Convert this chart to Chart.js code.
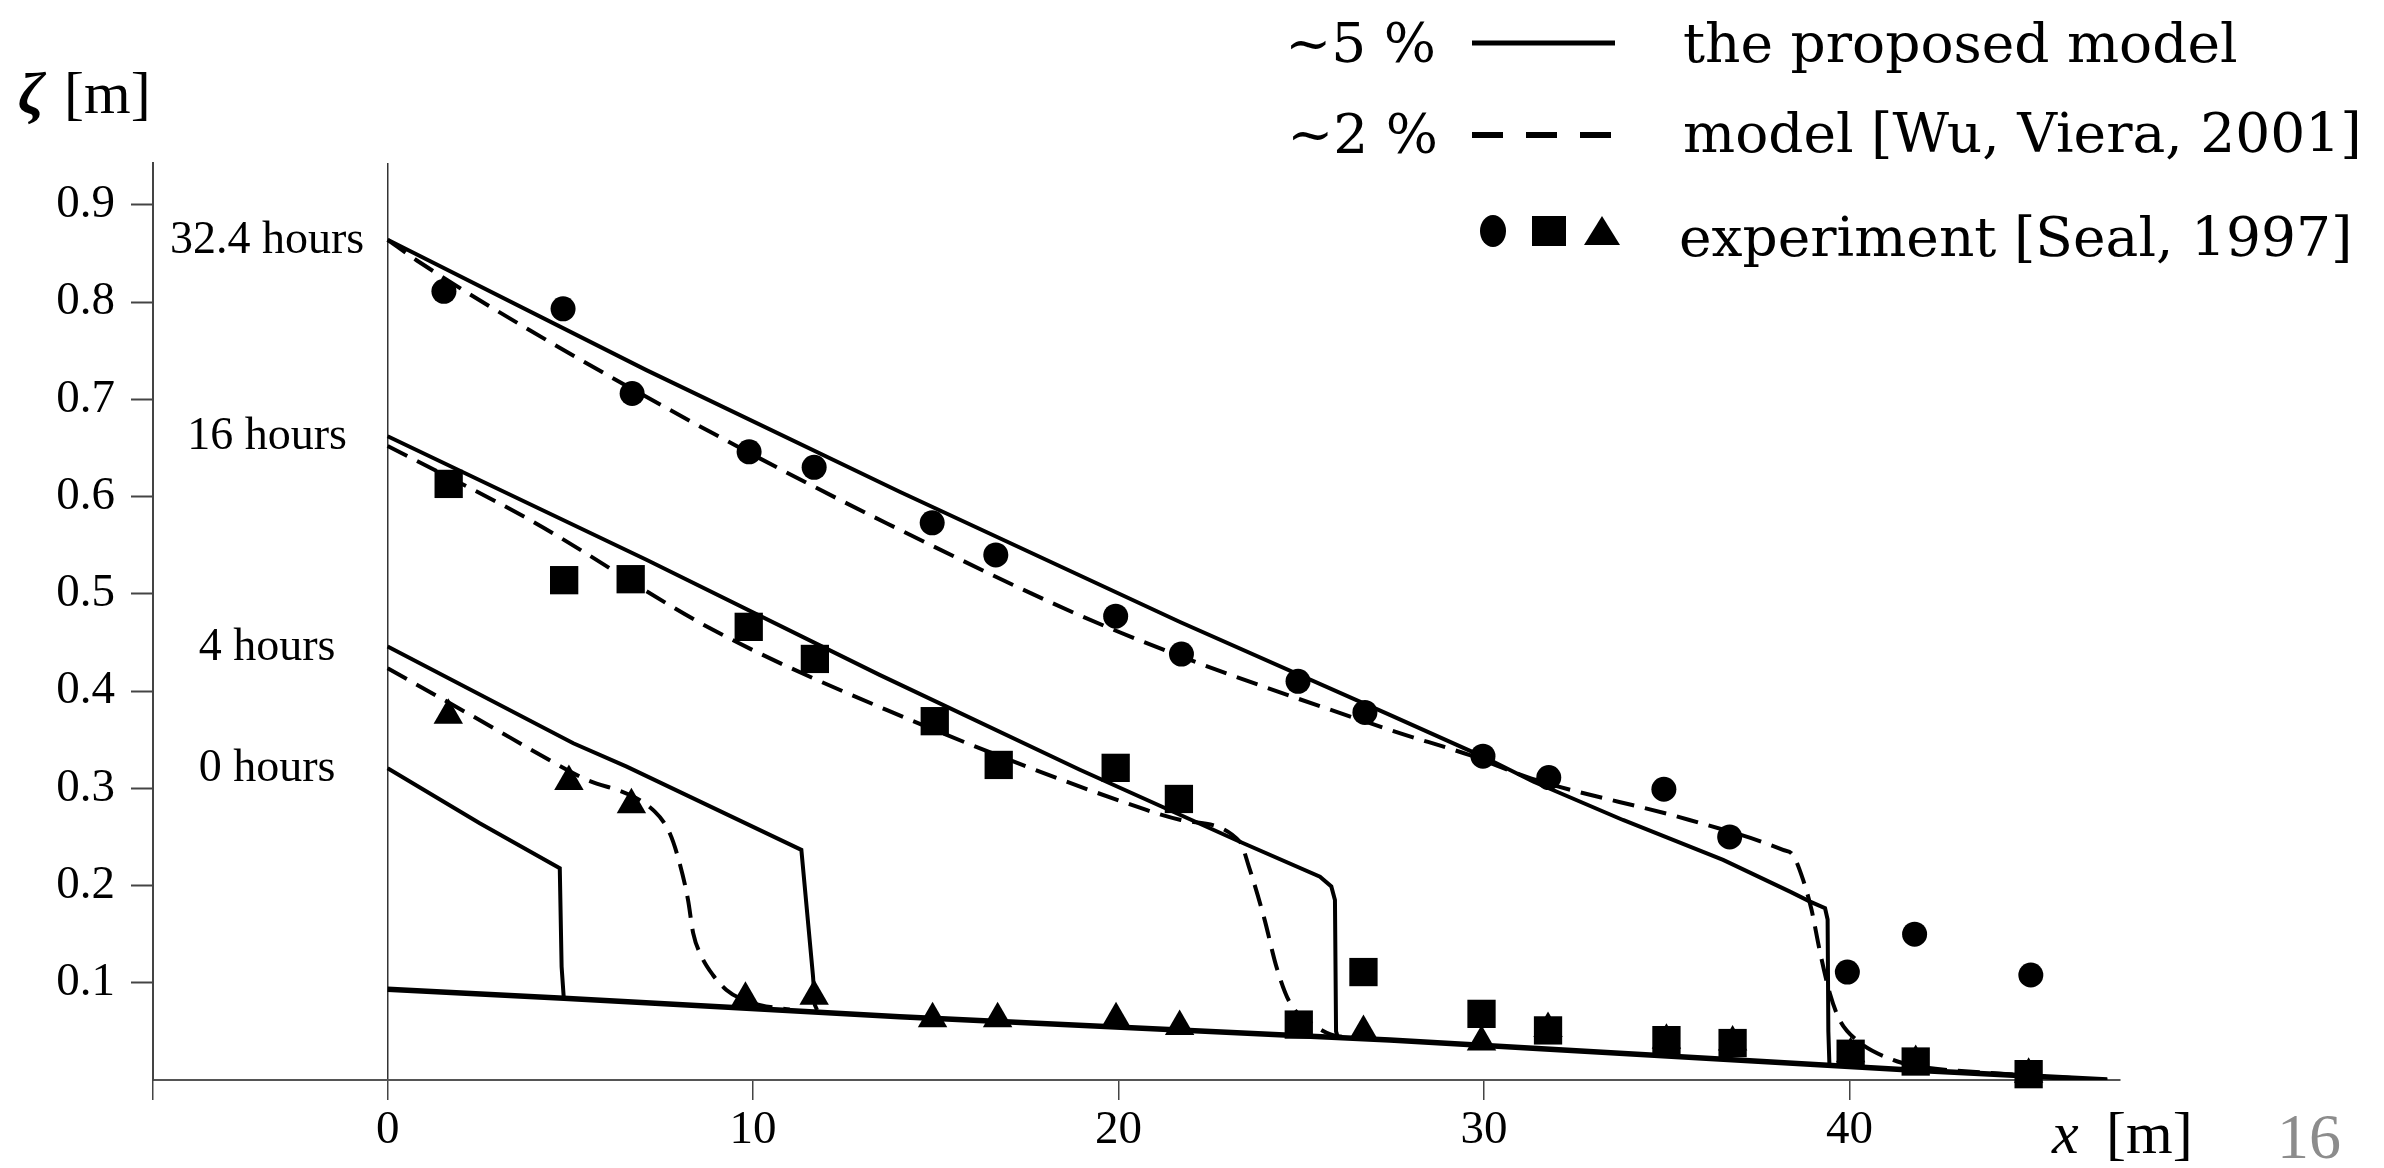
<!DOCTYPE html>
<html>
<head>
<meta charset="utf-8">
<script src="https://cdn.jsdelivr.net/npm/chart.js@4/dist/chart.umd.min.js"></script>
<style>
    html, body { margin: 0; padding: 0; background: #fff; }
    #wrap { position: relative; width: 2384px; height: 1168px; }
</style>
</head>
<body>
<div id="wrap"><canvas id="myChart"></canvas></div>
<script>
// axis ranges and ticks
const X_MIN = -6.42, X_MAX = 47.4;
const Y_MIN = 0, Y_MAX = 0.943;
const xTickValues = [0, 10, 20, 30, 40];
const yTickValues = [0.1, 0.2, 0.3, 0.4, 0.5, 0.6, 0.7, 0.8, 0.9];

// experiment [Seal, 1997]
const seal32x = [1.54, 4.80, 6.69, 9.89, 11.67, 14.90, 16.64, 19.92, 21.72, 24.91, 26.74, 29.97, 31.77, 34.92, 36.72, 39.94, 41.78, 44.96];
const seal32y = [0.811, 0.793, 0.706, 0.646, 0.630, 0.573, 0.540, 0.477, 0.438, 0.410, 0.378, 0.333, 0.311, 0.299, 0.250, 0.111, 0.150, 0.108];
const seal16x = [1.67, 4.83, 6.65, 9.88, 11.69, 14.97, 16.72, 19.92, 21.65, 24.93, 26.70, 29.93, 31.75, 34.99, 36.80, 40.03, 41.81, 44.90];
const seal16y = [0.613, 0.514, 0.515, 0.466, 0.433, 0.369, 0.324, 0.321, 0.289, 0.057, 0.111, 0.068, 0.051, 0.041, 0.038, 0.027, 0.019, 0.006];
const seal4x = [1.66, 4.96, 6.67, 9.79, 11.67, 14.91, 16.69, 19.93, 21.67, 26.70, 29.93, 31.75, 34.99, 36.80, 40.03, 41.81, 44.90];
const seal4y = [0.375, 0.307, 0.283, 0.084, 0.086, 0.063, 0.063, 0.063, 0.055, 0.050, 0.039, 0.053, 0.041, 0.039, 0.027, 0.019, 0.006];

// the proposed model (solid)
const model32x = [0, 7.08, 14.01, 21.68, 27.42, 29.97, 31.34, 33.80, 36.54, 38.37, 38.92, 39.33, 39.40, 39.42, 39.45];
const model32y = [0.864, 0.730, 0.605, 0.471, 0.3755, 0.3326, 0.307, 0.2674, 0.2263, 0.1937, 0.1834, 0.1766, 0.165, 0.05, 0.015];
const model16x = [0, 7.08, 13.46, 18.94, 23.32, 25.51, 25.82, 25.92, 25.95, 26.0];
const model16y = [0.662, 0.535, 0.4166, 0.319, 0.245, 0.209, 0.199, 0.185, 0.05, 0.0436];
const model4x = [0, 5.08, 6.54, 11.32, 11.64, 11.69, 11.75];
const model4y = [0.4457, 0.3463, 0.3223, 0.2366, 0.1063, 0.0771, 0.072];
const model0x = [0, 2.52, 4.71, 4.76, 4.82];
const model0y = [0.3206, 0.264, 0.2177, 0.1166, 0.084];
const bedX = [0, 4.82, 9.82, 14.01, 27.42, 41.65, 47.05];
const bedY = [0.0933, 0.084, 0.0737, 0.0651, 0.0411, 0.0103, 0];

// model [Wu, Viera, 2001] (dashed)
const wu32x = [0, 0.79, 3.89, 8.9, 13.65, 19.76, 27.42, 29.61, 31.3, 35.62, 38.18, 38.45, 38.73, 38.96, 39.18, 39.46, 39.73, 40.19, 41.19, 41.92, 43.84, 47.05];
const wu32y = [0.864, 0.843, 0.771, 0.665, 0.5726, 0.4646, 0.360, 0.334, 0.310, 0.2674, 0.2366, 0.2314, 0.2057, 0.175, 0.1337, 0.0892, 0.0617, 0.0411, 0.0206, 0.0138, 0.0072, 0];
const wu16x = [0, 3.89, 8.9, 13.65, 20.76, 21.7, 23.32, 23.56, 23.98, 24.33, 24.68, 25.38, 25.8, 26.5];
const wu16y = [0.652, 0.576, 0.463, 0.3806, 0.2777, 0.2674, 0.245, 0.22, 0.167, 0.115, 0.08, 0.0556, 0.047, 0.0427];
const wu4x = [0, 2.43, 5.26, 7.31, 7.72, 7.99, 8.22, 8.36, 8.59, 8.9, 9.27, 9.64, 10.2, 11.0];
const wu4y = [0.4235, 0.372, 0.312, 0.276, 0.2537, 0.2229, 0.185, 0.151, 0.127, 0.108, 0.0926, 0.084, 0.077, 0.0725];

const hourLabels = ['32.4 hours', '16 hours', '4 hours', '0 hours'];
const hourLabelX = -3.3;

const SERIF = '"Liberation Serif", "Times New Roman", serif';
const LEGEND_FONT = '"DejaVu Serif", Georgia, serif';

function toPoints(xs, ys) {
    return xs.map((x, i) => ({ x: x, y: ys[i] }));
}

function markers(label, xs, ys, style, radius, order) {
    return {
        label: label,
        data: toPoints(xs, ys),
        showLine: false,
        pointStyle: style,
        pointRadius: radius,
        pointHoverRadius: radius,
        pointBackgroundColor: '#000',
        pointBorderWidth: 0,
        clip: false,
        order: order
    };
}

function curve(label, xs, ys, dashed, width) {
    return {
        label: label,
        data: toPoints(xs, ys),
        borderColor: '#000',
        borderWidth: width || 4,
        borderDash: dashed ? [22, 11] : [],
        pointRadius: 0,
        fill: false,
        tension: 0,
        cubicInterpolationMode: dashed ? 'monotone' : 'default',
        order: dashed ? 6 : 5
    };
}

const annotations = {
    id: 'annotations',
    afterDraw(chart) {
        const ctx = chart.ctx;
        const xs = chart.scales.x;
        const ys = chart.scales.y;
        ctx.save();
        ctx.fillStyle = '#000';
        ctx.textBaseline = 'alphabetic';

        // time labels next to the curve starts
        const starts = [model32y[0], model16y[0], model4y[0], model0y[0]];
        ctx.font = '46px ' + SERIF;
        ctx.textAlign = 'center';
        hourLabels.forEach((t, i) => {
            ctx.fillText(t, xs.getPixelForValue(hourLabelX), ys.getPixelForValue(starts[i]) + 13);
        });

        // axis titles
        ctx.textAlign = 'left';
        ctx.font = 'italic bold 60px ' + SERIF;
        ctx.fillText('ζ', 18, 113);
        ctx.font = '60px ' + SERIF;
        ctx.fillText('[m]', 64, 113);
        ctx.font = 'italic 60px ' + SERIF;
        ctx.fillText('x', 2052, 1153);
        ctx.font = '60px ' + SERIF;
        ctx.fillText('[m]', 2106, 1153);

        // page number
        ctx.fillStyle = '#8c8c8c';
        ctx.font = '64px ' + SERIF;
        ctx.fillText('16', 2277, 1158);
        ctx.fillStyle = '#000';

        // legend
        ctx.font = '55px ' + LEGEND_FONT;
        ctx.textAlign = 'right';
        ctx.fillText('~5 %', 1436, 62);
        ctx.fillText('~2 %', 1438, 153);
        ctx.textAlign = 'left';
        ctx.fillText('the proposed model', 1683, 62);
        ctx.fillText('model [Wu, Viera, 2001]', 1683, 152);
        ctx.fillText('experiment [Seal, 1997]', 1679, 256);

        ctx.strokeStyle = '#000';
        ctx.lineWidth = 5;
        ctx.beginPath();
        ctx.moveTo(1472, 43);
        ctx.lineTo(1615, 43);
        ctx.stroke();
        ctx.lineWidth = 6;
        ctx.setLineDash([31, 23]);
        ctx.beginPath();
        ctx.moveTo(1472, 135);
        ctx.lineTo(1615, 135);
        ctx.stroke();
        ctx.setLineDash([]);

        ctx.beginPath();
        ctx.ellipse(1493, 231, 13, 16, 0, 0, Math.PI * 2);
        ctx.fill();
        ctx.fillRect(1532, 216, 34, 30);
        ctx.beginPath();
        ctx.moveTo(1602, 216);
        ctx.lineTo(1620, 245);
        ctx.lineTo(1584, 245);
        ctx.closePath();
        ctx.fill();

        ctx.restore();
    }
};

const ctx = document.getElementById('myChart').getContext('2d');

new Chart(ctx, {
    type: 'line',
    data: {
        datasets: [
            markers('32.4 hours', seal32x, seal32y, 'circle', 12.5, 0),
            markers('16 hours', seal16x, seal16y, 'rect', 20, 1),
            markers('4 hours', seal4x, seal4y, 'triangle', 17, 2),
            curve('proposed 32.4 h', model32x, model32y, false),
            curve('proposed 16 h', model16x, model16y, false),
            curve('proposed 4 h', model4x, model4y, false),
            curve('proposed 0 h', model0x, model0y, false),
            curve('proposed bed', bedX, bedY, false, 5.5),
            curve('Wu 32.4 h', wu32x, wu32y, true),
            curve('Wu 16 h', wu16x, wu16y, true),
            curve('Wu 4 h', wu4x, wu4y, true)
        ]
    },
    options: {
        responsive: true,
        maintainAspectRatio: false,
        animation: false,
        layout: {
            padding: { top: 163, right: 264, left: 0, bottom: 0 }
        },
        scales: {
            x: {
                type: 'linear',
                min: X_MIN,
                max: X_MAX,
                afterBuildTicks: function (scale) {
                    scale.ticks = [X_MIN].concat(xTickValues).map(v => ({ value: v }));
                },
                afterFit: function (scale) { scale.height = 88; },
                ticks: {
                    autoSkip: false,
                    maxRotation: 0,
                    padding: 2,
                    color: '#000',
                    font: { family: SERIF, size: 47 },
                    callback: function (value) {
                        return xTickValues.includes(value) ? String(value) : '';
                    }
                },
                grid: {
                    color: function (c) { return c.tick && c.tick.value === 0 ? '#333' : 'rgba(0,0,0,0)'; },
                    lineWidth: 1.5,
                    tickColor: '#444',
                    tickLength: 20,
                    tickWidth: 1.5
                },
                border: { display: true, color: '#555', width: 2 }
            },
            y: {
                type: 'linear',
                min: Y_MIN,
                max: Y_MAX,
                afterBuildTicks: function (scale) {
                    scale.ticks = yTickValues.map(v => ({ value: v }));
                },
                afterFit: function (scale) { scale.width = 153; },
                ticks: {
                    padding: 16,
                    color: '#000',
                    font: { family: SERIF, size: 47 },
                    callback: function (value) { return value.toFixed(1); }
                },
                grid: {
                    drawOnChartArea: false,
                    tickColor: '#444',
                    tickLength: 22,
                    tickWidth: 2
                },
                border: { display: true, color: '#444', width: 2 }
            }
        },
        plugins: {
            legend: { display: false },
            tooltip: { enabled: false }
        }
    },
    plugins: [annotations]
});
</script>
</body>
</html>
